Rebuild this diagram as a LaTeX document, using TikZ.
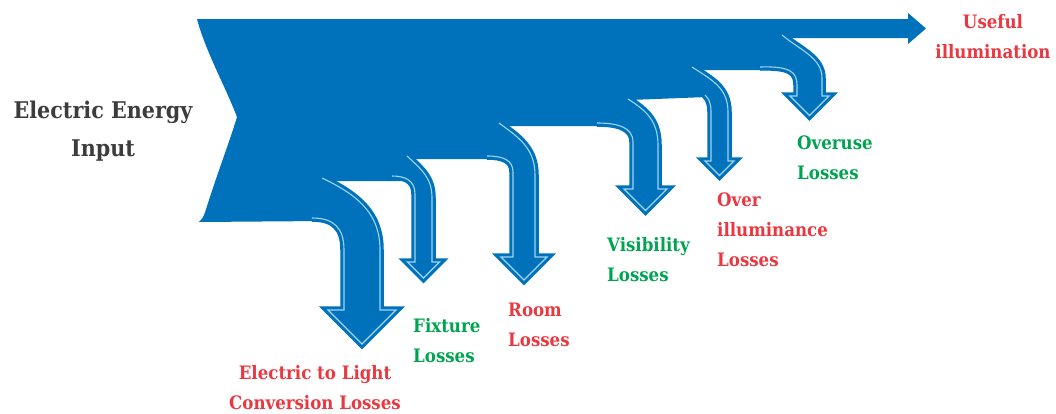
\documentclass[tikz,border=0pt]{standalone}
\usepackage{fontspec}
\setmainfont{DejaVu Serif Condensed}
\definecolor{flowblue}{RGB}{0,114,188}
\definecolor{glint}{RGB}{160,212,242}
\definecolor{lossred}{RGB}{233,56,64}
\definecolor{lossgreen}{RGB}{0,164,80}
\definecolor{inkgray}{RGB}{60,60,60}
\tikzset{
  band/.style={fill=flowblue, draw=none},
  flowarrow/.style={fill=flowblue, draw=flowblue, double=glint, double distance=1.1pt,
                    line width=3.2pt, line join=miter, miter limit=10},
  lbl/.style={font=\bfseries\fontsize{18.5}{30}\selectfont, inner sep=0pt},
  biglbl/.style={font=\bfseries\fontsize{23}{38}\selectfont, inner sep=0pt, text=inkgray, align=center}
}
\begin{document}
\begin{tikzpicture}[x=1pt,y=-1pt]
\useasboundingbox (0,0) rectangle (1056,413);
% main band with useful-output arrowhead
\path[band] (197,19) -- (908,19) -- (908,13) -- (926,28.5) -- (908,44) -- (908,38)
  -- (784,38) -- (784,70) -- (696,70) -- (707,97) -- (630,100) -- (630,126)
  -- (501,126) -- (501,159) -- (409,159) -- (409,181) -- (324,181) -- (324,221)
  -- (199,222) .. controls (204,218) and (205,212) .. (209,200)
  .. controls (218,172) and (230,140) .. (237,117)
  .. controls (226,88) and (205,50) .. (197,19) -- cycle;
% loss arrows
\path[flowarrow] (312,218) .. controls (334,218) and (344,228) .. (344,250) -- (344,310)
  -- (328,310) -- (362,344) -- (396,310) -- (380,310) -- (380,250)
  .. controls (380,215) and (360,196) .. (322,178);
\path[flowarrow] (392,176) .. controls (406,176) and (415,181) .. (415,194) -- (415,262)
  -- (407.5,262) -- (423.5,278) -- (439.5,262) -- (432,262) -- (432,198)
  .. controls (432,178) and (422,170) .. (407,156);
\path[flowarrow] (487,156) .. controls (503,156) and (513,160) .. (513,172) -- (513,257)
  -- (501,257) -- (524,280) -- (547,257) -- (535,257) -- (535,175)
  .. controls (535,148) and (518,137) .. (499,123);
\path[flowarrow] (597,123) .. controls (617,123) and (633,127) .. (633,142) -- (633,189)
  -- (624,189) -- (645.5,210.5) -- (667,189) -- (658,189) -- (658,145)
  .. controls (658,120) and (645,110) .. (628,99);
\path[flowarrow] (705,95) .. controls (709,99) and (711,103) .. (711,112) -- (711,161)
  -- (705,161) -- (719.5,175.5) -- (734,161) -- (728,161) -- (728,112)
  .. controls (728,88) and (712,80) .. (692,67);
\path[flowarrow] (760,67) .. controls (790,66) and (797,72) .. (797,85) -- (797,96)
  -- (790,96) -- (809.5,115.5) -- (829,96) -- (822,96) -- (822,78)
  .. controls (822,58) and (800,50) .. (782,35);
% labels
\node[biglbl] (input) at (103,131) {Electric Energy\\Input};
\node[lbl, text=lossred, align=center] (useful) at (993,37) {Useful\\illumination};
\node[lbl, text=lossgreen, align=left, anchor=west] (overuse) at (797,158) {Overuse\\Losses};
\node[lbl, text=lossred, align=left, anchor=west] (overill) at (717,230) {Over\\illuminance\\Losses};
\node[lbl, text=lossgreen, align=left, anchor=west] (visib) at (607,260) {Visibility\\Losses};
\node[lbl, text=lossred, align=left, anchor=west] (room) at (508,325) {Room\\Losses};
\node[lbl, text=lossgreen, align=left, anchor=west] (fixture) at (413,341) {Fixture\\Losses};
\node[lbl, text=lossred, align=center] (conv) at (315,388) {Electric to Light\\Conversion Losses};
\end{tikzpicture}
\end{document}
